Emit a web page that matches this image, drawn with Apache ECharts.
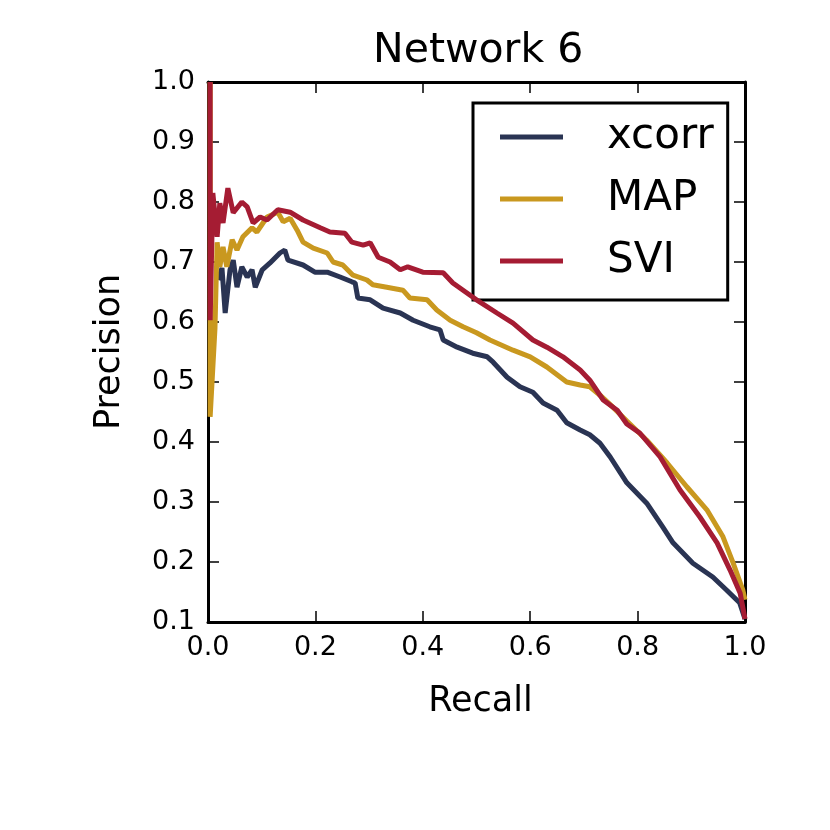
<!DOCTYPE html>
<html>
<head>
<meta charset="utf-8">
<script src="https://cdn.jsdelivr.net/npm/echarts@6/dist/echarts.min.js"></script>
<style>
  html, body { margin: 0; padding: 0; background: #fff; }
  #chart1 { width: 830px; height: 830px; }
</style>
</head>
<body>
<div id="chart1"></div>
<script>
// values
var xcorrRecall = [0.019, 0.026, 0.032, 0.041, 0.047, 0.054, 0.063, 0.073, 0.082, 0.088, 0.101, 0.115, 0.134, 0.143, 0.149, 0.177, 0.199, 0.222, 0.246, 0.268, 0.274, 0.279, 0.302, 0.326, 0.358, 0.382, 0.413, 0.432, 0.438, 0.464, 0.493, 0.520, 0.531, 0.557, 0.581, 0.605, 0.624, 0.650, 0.668, 0.693, 0.711, 0.730, 0.749, 0.780, 0.817, 0.847, 0.866, 0.903, 0.940, 0.966, 0.990, 1.000];
var xcorrPrecision = [0.670, 0.690, 0.615, 0.687, 0.703, 0.658, 0.692, 0.675, 0.687, 0.658, 0.687, 0.698, 0.715, 0.720, 0.703, 0.695, 0.683, 0.683, 0.675, 0.667, 0.665, 0.640, 0.637, 0.623, 0.615, 0.603, 0.592, 0.587, 0.570, 0.558, 0.548, 0.542, 0.533, 0.508, 0.492, 0.483, 0.465, 0.453, 0.432, 0.420, 0.412, 0.398, 0.375, 0.332, 0.298, 0.258, 0.232, 0.198, 0.175, 0.153, 0.132, 0.105];

var mapRecall = [0.004, 0.004, 0.013, 0.017, 0.022, 0.028, 0.035, 0.045, 0.054, 0.065, 0.082, 0.091, 0.110, 0.130, 0.140, 0.153, 0.166, 0.177, 0.196, 0.222, 0.233, 0.251, 0.270, 0.296, 0.307, 0.333, 0.363, 0.376, 0.408, 0.426, 0.451, 0.475, 0.500, 0.525, 0.568, 0.600, 0.631, 0.668, 0.693, 0.711, 0.730, 0.754, 0.780, 0.817, 0.855, 0.892, 0.929, 0.959, 0.978, 0.996, 1.000];
var mapPrecision = [1.000, 0.442, 0.590, 0.733, 0.692, 0.725, 0.692, 0.737, 0.720, 0.742, 0.757, 0.750, 0.775, 0.783, 0.767, 0.773, 0.753, 0.733, 0.723, 0.715, 0.700, 0.695, 0.678, 0.670, 0.662, 0.658, 0.653, 0.640, 0.637, 0.620, 0.603, 0.592, 0.582, 0.570, 0.553, 0.542, 0.525, 0.500, 0.495, 0.492, 0.478, 0.458, 0.435, 0.403, 0.365, 0.325, 0.287, 0.242, 0.198, 0.153, 0.137];

var sviRecall = [0.004, 0.004, 0.009, 0.017, 0.022, 0.028, 0.037, 0.047, 0.063, 0.073, 0.084, 0.097, 0.110, 0.130, 0.153, 0.177, 0.209, 0.227, 0.255, 0.268, 0.289, 0.302, 0.317, 0.339, 0.358, 0.372, 0.400, 0.438, 0.456, 0.475, 0.500, 0.538, 0.568, 0.605, 0.631, 0.661, 0.693, 0.711, 0.736, 0.762, 0.780, 0.804, 0.842, 0.879, 0.916, 0.948, 0.972, 0.991, 1.000];
var sviPrecision = [1.000, 0.603, 0.815, 0.742, 0.798, 0.765, 0.823, 0.782, 0.800, 0.792, 0.765, 0.775, 0.770, 0.787, 0.783, 0.770, 0.757, 0.750, 0.748, 0.733, 0.728, 0.732, 0.708, 0.700, 0.687, 0.692, 0.683, 0.682, 0.665, 0.653, 0.637, 0.615, 0.598, 0.570, 0.558, 0.542, 0.520, 0.503, 0.470, 0.453, 0.430, 0.415, 0.375, 0.320, 0.275, 0.232, 0.187, 0.148, 0.105];

var seriesNames = ['xcorr', 'MAP', 'SVI'];
var seriesColors = ['#2a3453', '#c9981f', '#a51c33'];

function zip(xs, ys) {
  var out = [];
  for (var i = 0; i < xs.length; i++) out.push([xs[i], ys[i]]);
  return out;
}

function chart() {
  var myChart = echarts.init(document.getElementById('chart1'));
  var font = 'DejaVu Sans';
  var tickLen = 11;

  var baseX = {
    type: 'value', min: 0, max: 1, interval: 0.2,
    splitLine: { show: false },
    axisLine: { show: true, onZero: false, lineStyle: { color: '#000', width: 3 } },
    axisTick: { show: true, inside: true, length: tickLen, lineStyle: { color: '#000', width: 1.5 } }
  };
  var baseY = {
    type: 'value', min: 0.1, max: 1.0, interval: 0.1,
    splitLine: { show: false },
    axisLine: { show: true, onZero: false, lineStyle: { color: '#000', width: 3 } },
    axisTick: { show: true, inside: true, length: tickLen, lineStyle: { color: '#000', width: 1.5 } }
  };

  var option = {
    animation: false,
    backgroundColor: '#fff',
    title: {
      text: 'Network 6',
      left: 368,
      top: 26,
      textStyle: { fontFamily: font, fontSize: 41, fontWeight: 'normal', color: '#000' }
    },
    grid: { left: 208, right: 85, top: 82, bottom: 208 },
    legend: {
      data: seriesNames,
      orient: 'vertical',
      left: 473,
      top: 103,
      icon: 'rect',
      itemWidth: 63,
      itemHeight: 5,
      itemGap: 20,
      padding: [13, 14, 18, 27],
      borderColor: '#000',
      borderWidth: 3,
      textStyle: { fontFamily: font, fontSize: 42, lineHeight: 42, color: '#000', padding: [0, 0, 0, 39] }
    },
    xAxis: [
      Object.assign({}, baseX, {
        position: 'bottom',
        name: 'Recall',
        nameLocation: 'middle',
        nameGap: 62,
        nameTextStyle: { fontFamily: font, fontSize: 35, color: '#000', padding: [0, 0, 0, 8] },
        axisLabel: {
          margin: 12, fontFamily: font, fontSize: 27, color: '#000',
          formatter: function (v) { return v.toFixed(1); }
        }
      }),
      Object.assign({}, baseX, { position: 'top', axisLabel: { show: false } })
    ],
    yAxis: [
      Object.assign({}, baseY, {
        position: 'left',
        name: 'Precision',
        nameLocation: 'middle',
        nameGap: 81,
        nameTextStyle: { fontFamily: font, fontSize: 35, color: '#000' },
        axisLabel: {
          margin: 13, fontFamily: font, fontSize: 27, color: '#000',
          formatter: function (v) { return v.toFixed(1); }
        }
      }),
      Object.assign({}, baseY, { position: 'right', axisLabel: { show: false } })
    ],
    series: [
      {
        name: 'xcorr', type: 'line', xAxisIndex: 0, yAxisIndex: 0,
        data: zip(xcorrRecall, xcorrPrecision),
        showSymbol: false, z: 2,
        itemStyle: { color: seriesColors[0] },
        lineStyle: { color: seriesColors[0], width: 5 }
      },
      {
        name: 'MAP', type: 'line', xAxisIndex: 0, yAxisIndex: 0,
        data: zip(mapRecall, mapPrecision),
        showSymbol: false, z: 3,
        itemStyle: { color: seriesColors[1] },
        lineStyle: { color: seriesColors[1], width: 5 }
      },
      {
        name: 'SVI', type: 'line', xAxisIndex: 0, yAxisIndex: 0,
        data: zip(sviRecall, sviPrecision),
        showSymbol: false, z: 4,
        itemStyle: { color: seriesColors[2] },
        lineStyle: { color: seriesColors[2], width: 5 }
      }
    ]
  };

  myChart.setOption(option);
}
chart();
</script>
</body>
</html>
